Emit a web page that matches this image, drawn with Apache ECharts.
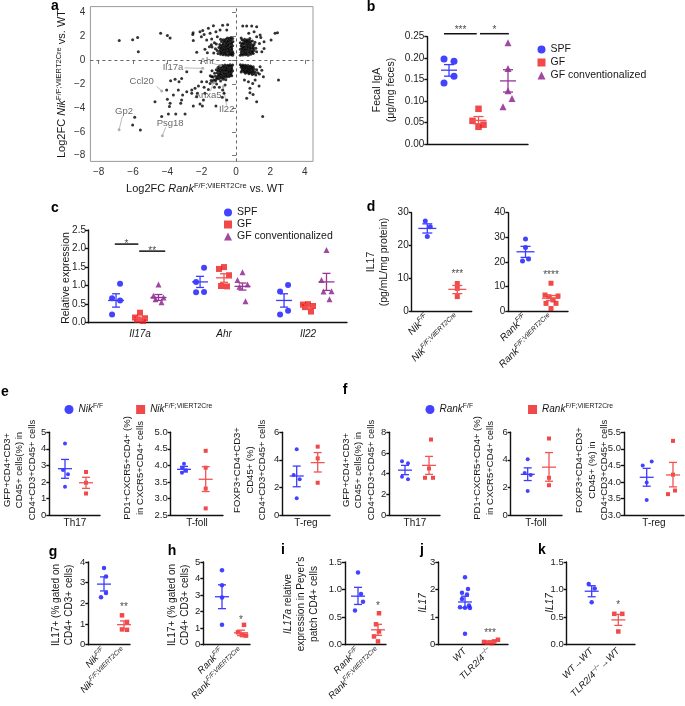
<!DOCTYPE html>
<html><head><meta charset="utf-8">
<script src="https://cdn.jsdelivr.net/npm/echarts@6/dist/echarts.min.js"></script>
<style>html,body{margin:0;padding:0;background:#fff}#c{width:685px;height:706px}</style>
</head><body><div id="c"></div>
<script>
// ================= DATA =================
// Panel a: volcano-like scatter (x: Log2FC Rank, y: Log2FC Nik)
const aTicks = [-8,-6,-4,-2,0,2,4];
const aPoints = [
[-6.8,1.65],[-6.02,1.71],[-5.73,1.9],[-5.69,0.71],[-4.39,2.24],[-4.0,2.07],[-3.84,1.85],[-2.52,2.15],[-2.5,2.3],[-1.94,2.48],[-1.61,2.66],[-1.32,2.88],[-0.78,2.91],[-0.49,2.96],[-2.49,1.65],[-2.29,0.65],[-2.1,2.38],[-2.02,1.96],[-1.86,2.15],[-1.71,1.68],[-1.51,2.24],[-1.42,1.76],[-1.17,2.38],[-1.09,1.96],[-0.93,2.52],[-1.81,0.9],[-1.67,0.62],[-1.55,1.12],[-1.44,1.29],[-1.26,1.46],[-0.54,2.52],[0.39,2.85],[0.62,2.85],[0.91,2.85],[1.2,2.8],[1.05,2.38],[0.74,2.24],[1.4,2.1],[1.2,1.96],[1.63,0.98],[1.5,0.71],[1.44,1.9],[2.04,1.68],[2.27,2.24],[2.41,2.29],[1.63,1.54],[1.36,1.4],
[-2.04,-0.97],[-2.87,-0.97],[-3.32,-1.81],[-3.55,-1.61],[-3.81,-1.72],[-3.17,-1.53],[-4.04,-2.5],[-3.36,-2.5],[-3.65,-2.92],[-3.11,-2.92],[-2.87,-2.64],[-2.58,-2.5],[-2.39,-2.36],[-2.25,-2.78],[-2.58,-2.78],[-4.72,-3.48],[-4.0,-3.28],[-3.84,-3.61],[-3.88,-3.89],[-3.17,-3.34],[-3.22,-3.61],[-2.49,-3.84],[-2.1,-3.67],[-1.96,-3.84],[-1.17,-3.84],[-0.8,-3.11],[-2.29,-3.06],[-1.9,-3.34],[-3.94,-4.51],[-3.51,-4.51],[-2.97,-4.51],[-4.33,-4.73],[-5.9,-4.79],[-6.02,-5.43],[-5.57,-5.85],[1.4,-0.55],[1.5,-0.84],[1.36,-1.17],[1.59,-1.39],[1.11,-1.67],[0.72,-1.81],[0.97,-1.95],[0.81,-2.36],[1.34,-2.17],[0.99,-2.87],[0.62,-3.2],[1.2,-3.48],[2.47,-1.67],[1.55,-4.73],[0.49,-1.67],[0.81,-2.73],[-1.71,-1.81],[-1.51,-1.95],[-1.86,-2.28],[-1.61,-2.45],[-1.36,-1.81],[-1.13,-2.0],[-0.97,-2.28],[-0.78,-2.5],[-0.64,-2.08],[-1.26,-2.28],[-1.81,-2.78],[-2.0,-1.81],[-2.19,-2.17],[-1.42,-1.39],[-0.7,-2.78],[-0.54,-3.34],
[-0.2,0.4],[-0.3,0.45],[-0.45,0.4],[-0.6,0.42],[-0.75,0.45],[-0.9,0.5],[-0.2,0.7],[-0.35,0.65],[-0.5,0.7],[-0.65,0.68],[-0.8,0.72],[-0.95,0.75],[-1.1,0.8],[-0.25,0.95],[-0.4,0.9],[-0.55,0.95],[-0.7,0.92],[-0.85,1.0],[-1.0,1.05],[-0.2,1.2],[-0.35,1.15],[-0.5,1.2],[-0.65,1.18],[-0.8,1.25],[-0.95,1.3],[-0.25,1.45],[-0.4,1.4],[-0.55,1.45],[-0.7,1.5],[-0.85,1.55],[-0.3,1.7],[-0.45,1.65],[-0.6,1.75],[-0.75,1.7],[-0.18,1.55],[-0.17,0.55],[-1.05,0.55],[-1.2,0.95],[-0.5,1.85],[-0.3,1.9],[-1.3,0.6],[-1.15,1.35],[-0.9,1.75],[-1.4,1.1],
[-0.28,0.55],[-0.42,0.53],[-0.58,0.56],[-0.72,0.58],[-0.88,0.62],[-0.27,0.82],[-0.43,0.78],[-0.6,0.82],[-0.75,0.85],[-0.9,0.88],[-0.28,1.07],[-0.45,1.03],[-0.6,1.07],[-0.75,1.1],[-0.9,1.15],[-0.28,1.32],[-0.45,1.28],[-0.6,1.32],[-0.75,1.38],[-0.35,1.55],[-0.5,1.55],[-0.65,1.62],[-0.2,1.8],[-0.4,1.8],
[0.25,0.4],[0.4,0.42],[0.55,0.45],[0.7,0.4],[0.85,0.5],[1.0,0.55],[0.3,0.65],[0.45,0.7],[0.6,0.68],[0.75,0.72],[0.9,0.75],[1.05,0.8],[0.25,0.9],[0.4,0.95],[0.55,0.92],[0.7,1.0],[0.85,1.02],[1.0,1.05],[1.15,1.0],[0.3,1.2],[0.45,1.15],[0.6,1.22],[0.75,1.25],[0.9,1.3],[1.05,1.3],[0.25,1.45],[0.4,1.42],[0.55,1.5],[0.7,1.5],[0.85,1.55],[0.35,1.7],[0.5,1.75],[0.65,1.7],[0.8,1.8],[1.2,0.7],[0.95,1.6],[1.1,1.5],[0.3,1.85],
[0.32,0.52],[0.48,0.55],[0.62,0.55],[0.78,0.6],[0.95,0.65],[0.35,0.8],[0.5,0.82],[0.66,0.85],[0.82,0.88],[0.98,0.92],[0.35,1.05],[0.5,1.07],[0.66,1.1],[0.82,1.15],[0.98,1.18],[0.35,1.32],[0.5,1.35],[0.66,1.38],[0.8,1.42],[0.45,1.6],[0.6,1.6],[0.75,1.65],
[-0.2,-0.4],[-0.35,-0.38],[-0.5,-0.42],[-0.65,-0.4],[-0.8,-0.45],[-0.95,-0.5],[-0.25,-0.65],[-0.4,-0.62],[-0.55,-0.68],[-0.7,-0.65],[-0.85,-0.7],[-1.0,-0.75],[-1.15,-0.8],[-0.2,-0.9],[-0.35,-0.88],[-0.5,-0.92],[-0.65,-0.9],[-0.8,-0.95],[-0.95,-1.0],[-1.1,-1.05],[-1.25,-1.1],[-0.3,-1.15],[-0.45,-1.12],[-0.6,-1.18],[-0.75,-1.2],[-0.9,-1.25],[-1.05,-1.3],[-1.2,-1.35],[-1.35,-1.4],[-0.4,-1.38],[-0.55,-1.42],[-0.7,-1.45],[-0.85,-1.5],[-1.0,-1.55],[-1.15,-1.6],[-1.3,-1.65],[-1.45,-1.7],[-0.6,-1.65],[-0.9,-1.75],[-1.5,-1.3],[-1.4,-0.9],[-0.25,-1.3],
[-0.28,-0.52],[-0.43,-0.5],[-0.58,-0.55],[-0.73,-0.55],[-0.88,-0.58],[-1.05,-0.62],[-0.28,-0.78],[-0.45,-0.76],[-0.6,-0.8],[-0.75,-0.82],[-0.9,-0.84],[-1.05,-0.9],[-0.28,-1.02],[-0.42,-1.0],[-0.58,-1.05],[-0.72,-1.07],[-0.88,-1.12],[-1.0,-1.18],[-0.35,-1.26],[-0.5,-1.28],[-0.65,-1.32],[-0.8,-1.37],[-0.95,-1.42],[-1.1,-1.47],[-0.75,-1.6],[-1.2,-1.75],
[0.25,-0.38],[0.4,-0.4],[0.55,-0.42],[0.7,-0.45],[0.85,-0.5],[1.0,-0.55],[0.3,-0.6],[0.45,-0.62],[0.6,-0.65],[0.75,-0.7],[0.9,-0.72],[1.05,-0.75],[1.2,-0.8],[0.35,-0.85],[0.5,-0.88],[0.65,-0.9],[0.8,-0.95],[0.95,-0.98],[1.1,-1.0],[1.25,-1.05],[0.55,-1.1],[0.75,-1.15],[0.95,-1.2],[1.15,-1.25],[0.3,-1.0],
[0.32,-0.5],[0.48,-0.52],[0.62,-0.55],[0.78,-0.58],[0.92,-0.62],[0.38,-0.72],[0.52,-0.75],[0.68,-0.78],[0.82,-0.82],[0.98,-0.87],[0.45,-0.98],[0.6,-1.0],[0.72,-1.03],[0.88,-1.08],[1.05,-1.12]
];
const aGenes = ['Il17a','Ahr','Ccl20','Anxa5','Il22','Gp2','Psg18'];
const aGenePts = [[-1.94,-0.69],[-0.9,-0.45],[-4.33,-2.59],[-1.3,-1.9],[-0.75,-2.2],[-6.81,-5.84],[-4.29,-6.33]];

// Panel b: Fecal IgA
const bGroups = ['SPF','GF','GF conventionalized'];
const bSPF  = [0.198,0.193,0.158,0.142];
const bGF   = [0.082,0.054,0.045,0.040];
const bConv = [0.236,0.176,0.124,0.106,0.087];
const bMean = [0.172,0.055,0.147], bLo = [0.158,0.047,0.121], bHi = [0.185,0.064,0.173];

// Panel c: relative expression
const cGenes = ['Il17a','Ahr','Il22'];
const cSPF  = [[1.05,0.66,0.6,0.22],[1.48,1.1,0.83,0.82],[1.02,0.84,0.32,0.22]];
const cGF   = [[0.27,0.14,0.12,0.08,0.05],[1.5,1.45,1.28,0.99,0.98],[0.5,0.49,0.45,0.42,0.3]];
const cConv = [[1.03,0.73,0.68,0.63,0.55],[1.36,1.15,1.03,0.97,0.58],[1.96,1.15,0.85,0.84,0.63]];
const cMean = {SPF:[0.6,1.1,0.6], GF:[0.11,1.21,0.43], Conv:[0.68,0.98,1.1]};
const cLo   = {SPF:[0.42,0.95,0.42], GF:[0.07,1.09,0.39], Conv:[0.6,0.88,0.87]};
const cHi   = {SPF:[0.78,1.25,0.78], GF:[0.15,1.32,0.48], Conv:[0.76,1.07,1.33]};

// Panel d: IL17 protein
const dNik = [27.5,25.7,22.7], dNikVil = [8.4,6.9,4.4];
const dNikStats = [[25.2,23.8,26.6],[6.6,5.3,7.8]];
const dRank = [29.3,25.8,21.2,20.3], dRankVil = [11.3,6.5,6.1,5.8,4.5,3.1,3.1,1.0];
const dRankStats = [[24.1,21.8,26.3],[5.2,4.2,6.3]];

// Panel e (Nik) and f (Rank): Th17, T-foll, T-reg
const eTh17 = [[4.33,2.72,2.46,1.71],[2.6,1.95,1.3]], eTh17Stats=[[2.8,2.22,3.36],[1.95,1.61,2.28]];
const eTfoll = [[4.05,3.92,3.85,3.78],[4.44,3.93,3.3,2.7]], eTfollStats=[[3.88,3.8,3.97],[3.58,3.21,3.96]];
const eTreg = [[4.77,2.9,2.59,1.21],[4.96,4.11,2.34]], eTregStats=[[2.83,2.05,3.55],[3.8,3.12,4.53]];
const fTh17 = [[5.2,5.0,3.7,3.45],[7.3,4.5,3.6,3.6]], fTh17Stats=[[4.34,3.9,4.8],[4.8,3.93,5.67]];
const fTfoll = [[4.05,3.05,2.9,1.75],[5.55,2.7,2.16]], fTfollStats=[[2.95,2.5,3.42],[3.47,2.45,4.53]];
const fTreg = [[4.62,4.5,3.98,3.45],[5.24,4.22,3.74,3.63]], fTregStats=[[4.14,3.87,4.41],[4.21,3.85,4.59]];

// Panels g-k
const gIL17 = [[3.71,3.3,2.5,2.3],[1.42,1.1,0.74,0.72]], gStats=[[2.93,2.6,3.28],[0.97,0.77,1.15]];
const hIL17 = [[4.5,3.6,2.85,1.2],[1.2,0.75,0.58,0.55]], hStats=[[2.9,2.18,3.62],[0.72,0.55,0.88]];
const iIL17a = [[1.31,0.92,0.78,0.62],[0.57,0.37,0.24,0.15,0.06]], iStats=[[0.88,0.73,1.04],[0.27,0.17,0.37]];
const jIL17 = [[2.45,2.02,1.88,1.82,1.66,1.42,1.36,1.34,1.33,0.4],[0.18,0.12,0.1,0.08,0.07,0.06]], jStats=[[1.55,1.34,1.76],[0.1,0.08,0.13]];
const kIL17 = [[1.1,1.02,0.77],[0.56,0.56,0.24]], kStats=[[0.97,0.87,1.07],[0.45,0.35,0.55]];

// ================= STYLE / LAYOUT =================
const F = '"Liberation Sans", Arial, Helvetica, sans-serif';
const COL = {blue:'#1414ff', red:'#ee1c1c', purple:'#8a1c8a'};
const ECOL = {blue:'#3c3cff', red:'#f25353', purple:'#963796'};
const TXT = '#161616';
function rich(fs, color){
  color = color || TXT; const ss = Math.round(fs*0.68*10)/10;
  return {
    n:{fontFamily:F,fontSize:fs,lineHeight:fs+3,color},
    i:{fontFamily:F,fontSize:fs,lineHeight:fs+3,fontStyle:'italic',color},
    s:{fontFamily:F,fontSize:ss,lineHeight:ss+1,verticalAlign:'top',color},
    si:{fontFamily:F,fontSize:ss,lineHeight:ss+1,verticalAlign:'top',fontStyle:'italic',color}
  };
}
const grids=[], xAxes=[], yAxes=[], series=[], graphics=[], legends=[];
function minus(v){ return (v<0?'\u2212':'')+Math.abs(v); }

function errSeries(gi, data, color, mw, cw){
  return {type:'custom', xAxisIndex:gi, yAxisIndex:gi, silent:true, z:4, clip:false, data,
    encode:{x:0,y:1},
    renderItem:(params, api)=>{
      const x = api.value(0);
      const m = api.coord([x, api.value(1)]), lo = api.coord([x, api.value(2)]), hi = api.coord([x, api.value(3)]);
      const st = {stroke:color, lineWidth:1.3};
      return {type:'group', children:[
        {type:'line', shape:{x1:m[0]-mw,y1:m[1],x2:m[0]+mw,y2:m[1]}, style:st},
        {type:'line', shape:{x1:lo[0],y1:lo[1],x2:hi[0],y2:hi[1]}, style:st},
        {type:'line', shape:{x1:lo[0]-cw,y1:lo[1],x2:lo[0]+cw,y2:lo[1]}, style:st},
        {type:'line', shape:{x1:hi[0]-cw,y1:hi[1],x2:hi[0]+cw,y2:hi[1]}, style:st}
      ]};
    }};
}
function sigBars(gi, bars){
  series.push({type:'custom', xAxisIndex:gi, yAxisIndex:gi, silent:true, clip:false, z:5,
    data: bars.map(b=>[b[0],b[2],b[1]]), encode:{x:[0,2],y:1},
    renderItem:(p, api)=>{
      const a = api.coord([api.value(0), api.value(1)]), b = api.coord([api.value(2), api.value(1)]);
      return {type:'line', shape:{x1:a[0],y1:a[1],x2:b[0],y2:a[1]}, style:{stroke:'#111', lineWidth:1.5}};
    }});
}
function stars(gi, list, fs){
  series.push({type:'scatter', xAxisIndex:gi, yAxisIndex:gi, silent:true, clip:false, z:6,
    symbolSize:1, itemStyle:{color:'rgba(0,0,0,0)'},
    data: list.map(s=>({value:[s[0],s[1]], label:{formatter:s[2]}})),
    label:{show:true, position:'inside', offset:[0,3], fontFamily:F, fontSize:fs||10, color:TXT}});
}

function dot(p){
  const gi = grids.length, unit = p.gx[1]-p.gx[0];
  grids.push({left:p.l, top:p.t, width:p.r-p.l, height:p.b-p.t});
  const xa = {gridIndex:gi, type:'value', min:(p.l-p.gx[0])/unit, max:(p.r-p.gx[0])/unit,
    axisLine:{show:true,onZero:false,lineStyle:{color:'#111',width:1.4}}, axisTick:{show:false},
    splitLine:{show:false}, axisLabel:{show:false}};
  if (p.xl) xa.axisLabel = {show:true, customValues:p.xl.v, rotate:p.xl.rot||0, margin:p.xl.m||5,
    fontFamily:F, fontSize:p.xl.fs||9.5, color:TXT, formatter:v=>p.xl.t[p.xl.v.indexOf(Math.round(v*1000)/1000)], rich:rich(p.xl.fs||9.5)};
  xAxes.push(xa);
  yAxes.push({gridIndex:gi, type:'value', min:p.ymin, max:p.ymax, interval:p.yint,
    axisLine:{show:true,onZero:false,lineStyle:{color:'#111',width:1.4}},
    axisTick:{show:true,length:3,lineStyle:{color:'#111',width:1.4}},
    axisLabel:{fontFamily:F,fontSize:p.yfs||9.5,color:'#222',margin:p.ym===undefined?3:p.ym, formatter:v=>v.toFixed(p.dec||0)},
    splitLine:{show:false}});
  p.groups.forEach(g=>{
    series.push({type:'scatter', name:g.name, xAxisIndex:gi, yAxisIndex:gi, symbol:g.sym||'circle',
      symbolSize:g.size||4, itemStyle:{color:COL[g.c]}, clip:false, z:3, silent:true,
      data:g.vals.map((v,i)=>[g.x + (g.jit? g.jit[i]:0)/unit, v])});
    series.push(errSeries(gi, [[g.x, g.st[0], g.st[1], g.st[2]]], ECOL[g.c], p.mw||7, p.cw||4));
  });
  if (p.bars) sigBars(gi, p.bars);
  if (p.stars) stars(gi, p.stars, p.sfs);
  return gi;
}
function vtext(x, y, text, fs){
  graphics.push({type:'text', x, y, rotation:Math.PI/2, silent:true,
    style:{text, rich:rich(fs), fontFamily:F, fontSize:fs, fill:TXT, align:'center', verticalAlign:'middle'}});
}
function htext(x, y, text, fs, bold, color){
  graphics.push({type:'text', x, y, silent:true,
    style:{text, rich:rich(fs, color), fontFamily:F, fontSize:fs, fontWeight:bold?'bold':'normal', fill:color||TXT, align:'center', verticalAlign:'middle'}});
}

// ---------- Panel a ----------
(function(){
  const gi = grids.length;
  grids.push({left:90.4, top:6.6, width:313-90.4, height:161.4-6.6, show:true, borderColor:'#9a9a9a', borderWidth:1, backgroundColor:'rgba(0,0,0,0)'});
  const base = {gridIndex:gi, type:'value', min:-8.48, max:4.48, splitLine:{show:false}, axisLine:{show:false},
    axisTick:{show:true, customValues:aTicks, length:4, lineStyle:{color:'#777'}},
    axisLabel:{customValues:aTicks, fontFamily:F, fontSize:10, color:'#333', margin:6, formatter:minus}};
  xAxes.push(base);
  yAxes.push(Object.assign({}, base, {axisLabel:Object.assign({}, base.axisLabel, {margin:5})}));
  series.push({type:'scatter', xAxisIndex:gi, yAxisIndex:gi, symbolSize:3, itemStyle:{color:'#000'}, data:aPoints, silent:true,
    markLine:{silent:true, symbol:['none','none'], label:{show:false}, animation:false,
      lineStyle:{type:[3,3], color:'#555', width:0.9}, data:[{xAxis:0},{yAxis:0}]}});
  // gene label layout: text centre and leader start (axis units)
  const textPos = [[-3.67,-0.64],[-1.69,-0.13],[-5.49,-1.78],[-1.63,-2.92],[-0.54,-4.12],[-6.52,-4.26],[-3.84,-5.29]];
  const lineStart = [[-3.0,-0.65],[-1.35,-0.28],[-4.62,-2.2],[-1.5,-2.6],[-0.55,-3.8],[-6.62,-4.7],[-4.1,-5.62]];
  series.push({type:'custom', xAxisIndex:gi, yAxisIndex:gi, silent:true, z:2,
    data: aGenePts.map((p,i)=>[lineStart[i][0], lineStart[i][1], p[0], p[1]]), encode:{x:[0,2],y:[1,3]},
    renderItem:(pr, api)=>{
      const a = api.coord([api.value(0),api.value(1)]), b = api.coord([api.value(2),api.value(3)]);
      return {type:'line', shape:{x1:a[0],y1:a[1],x2:b[0],y2:b[1]}, style:{stroke:'#aaa', lineWidth:0.8}};
    }});
  series.push({type:'scatter', xAxisIndex:gi, yAxisIndex:gi, symbolSize:3, itemStyle:{color:'#a0a0a0'}, data:aGenePts, silent:true, z:3});
  series.push({type:'scatter', xAxisIndex:gi, yAxisIndex:gi, symbolSize:1, itemStyle:{color:'rgba(0,0,0,0)'}, silent:true, z:6,
    data: textPos.map((p,i)=>({value:p, label:{formatter:aGenes[i]}})),
    label:{show:true, position:'inside', fontFamily:F, fontSize:9.5, color:'#444'}});
  vtext(62, 84, '{n|Log2FC }{i|Nik}{s|F/F;VilERT2Cre}{n| vs. WT}', 11);
  htext(205, 189, '{n|Log2FC }{i|Rank}{s|F/F;VilERT2Cre}{n| vs. WT}', 11);
})();

// ---------- Panel b ----------
(function(){
  dot({l:427.3, r:528, t:36.7, b:144, gx:[449,478.5], ymin:0, ymax:0.25, yint:0.05, dec:2, yfs:10, mw:8, cw:5,
    groups:[
      {name:bGroups[0], x:0, vals:bSPF, c:'blue', sym:'circle', size:7, jit:[-5,5,5,-5], st:[bMean[0],bLo[0],bHi[0]]},
      {name:bGroups[1], x:1, vals:bGF, c:'red', sym:'rect', size:6.5, jit:[0,-6,5,0], st:[bMean[1],bLo[1],bHi[1]]},
      {name:bGroups[2], x:2, vals:bConv, c:'purple', sym:'triangle', size:7, jit:[0,0,0,4,-5], st:[bMean[2],bLo[2],bHi[2]]}
    ],
    bars:[[-0.17,0.94,0.257],[1.05,2.03,0.257]],
    stars:[[0.39,0.272,'***'],[1.54,0.272,'*']]});
  vtext(384, 90, '{n|Fecal IgA}\n{n|(μg/mg feces)}', 10.5);
  legends.push({left:532.5, top:39, orient:'vertical', itemWidth:8, itemHeight:8, itemGap:2, selectedMode:false,
    textStyle:{fontFamily:F, fontSize:10.5, color:TXT},
    data:[{name:'SPF',icon:'circle'},{name:'GF',icon:'rect'},{name:'GF conventionalized',icon:'triangle'}]});
})();

// ---------- Panel c ----------
(function(){
  const groups = [];
  [0,1,2].forEach(k=>{
    groups.push({name:'SPF', x:k-0.285, vals:cSPF[k], c:'blue', sym:'circle', size:6, jit:[4,-4,4,-4], st:[cMean.SPF[k],cLo.SPF[k],cHi.SPF[k]]});
    groups.push({name:'GF', x:k, vals:cGF[k], c:'red', sym:'rect', size:6, jit:[0,-5,5,-3,3], st:[cMean.GF[k],cLo.GF[k],cHi.GF[k]]});
    groups.push({name:'GF conventionalized', x:k+0.22, vals:cConv[k], c:'purple', sym:'triangle', size:6, jit:[0,-5,5,-3,3], st:[cMean.Conv[k],cLo.Conv[k],cHi.Conv[k]]});
  });
  dot({l:88, r:347, t:230, b:322.7, gx:[140,224], ymin:0, ymax:2.5, yint:0.5, dec:1, yfs:10, ym:2, mw:8, cw:4,
    xl:{v:[0,1,2], t:cGenes.map(g=>'{i|'+g+'}'), fs:10, m:5},
    groups,
    bars:[[-0.3,-0.02,2.12],[-0.01,0.3,1.93]],
    stars:[[-0.16,2.2,'*'],[0.145,2.01,'**']]});
  vtext(66, 278, '{n|Relative expression}', 10.5);
  legends.push({left:219, top:202, orient:'vertical', itemWidth:8, itemHeight:8, itemGap:1, selectedMode:false,
    textStyle:{fontFamily:F, fontSize:10.5, color:TXT},
    data:[{name:'SPF',icon:'circle'},{name:'GF',icon:'rect'},{name:'GF conventionalized',icon:'triangle'}]});
})();

// ---------- Panel d ----------
(function(){
  dot({l:411.7, r:471.7, t:212.7, b:311, gx:[427.3,457.3], ymin:0, ymax:30, yint:10, yfs:10, mw:9, cw:5,
    xl:{v:[0,1], t:['{i|Nik}{si|F/F}','{i|Nik}{si|F/F;VilERT2Cre}'], rot:45, fs:10, m:5},
    groups:[
      {name:'NikFF', x:0, vals:dNik, c:'blue', size:5, jit:[-2,3,0], st:dNikStats[0]},
      {name:'NikVil', x:1, vals:dNikVil, c:'red', sym:'rect', size:5, st:dNikStats[1]}],
    stars:[[1,12.2,'***']]});
  dot({l:508.3, r:568, t:212.7, b:311, gx:[525.5,551], ymin:0, ymax:40, yint:10, yfs:10, mw:9, cw:5,
    xl:{v:[0,1], t:['{i|Rank}{si|F/F}','{i|Rank}{si|F/F;VilERT2Cre}'], rot:45, fs:10, m:5},
    groups:[
      {name:'RankFF', x:0, vals:dRank, c:'blue', size:5, jit:[0,0,3,-3], st:dRankStats[0]},
      {name:'RankVil', x:1, vals:dRankVil, c:'red', sym:'rect', size:5, jit:[0,-6,7,-2,2,-5,5,0], st:dRankStats[1]}],
    stars:[[1,15.6,'****']]});
  vtext(377.5, 262, '{n|IL17}\n{n|(pg/mL/mg protein)}', 10.5);
})();

// ---------- Panels e, f ----------
function pair(p, data, stats, nm){
  return dot(Object.assign({t:432.3, b:515, mw:7, cw:4, yfs:9.5,
    groups:[
      {name:nm[0], x:0, vals:data[0], c:'blue', size:4, jit:p.j0, st:stats[0]},
      {name:nm[1], x:1, vals:data[1], c:'red', sym:'rect', size:4, jit:p.j1, st:stats[1]}]}, p));
}
pair({l:49.3, r:100, gx:[65,86], ymin:0, ymax:5, yint:1, j0:[0,-2,3,0]}, eTh17, eTh17Stats, ['NikFF','NikVil']);
pair({l:170.7, r:223, gx:[184,205.7], ymin:2.5, ymax:5, yint:0.5, dec:1, j0:[0,-2,2,-2]}, eTfoll, eTfollStats, ['NikFF','NikVil']);
pair({l:282.3, r:330, gx:[296.7,317.7], ymin:0, ymax:6, yint:2, j0:[0,-3,3,0]}, eTreg, eTregStats, ['NikFF','NikVil']);
pair({l:389.3, r:440, gx:[405,429], ymin:0, ymax:8, yint:2, j0:[-3,3,-3,3], j1:[2,0,-4,4]}, fTh17, fTh17Stats, ['RankFF','RankVil']);
pair({l:510.7, r:562, gx:[527.7,549], ymin:0, ymax:6, yint:2, j0:[0,-3,3,0]}, fTfoll, fTfollStats, ['RankFF','RankVil']);
pair({l:624, r:684, gx:[646.7,673], ymin:3, ymax:5.5, yint:0.5, dec:1, j0:[5,-4,0,0], j1:[0,0,2,-5]}, fTreg, fTregStats, ['RankFF','RankVil']);

const legNames = {NikFF:'{i|Nik}{s|F/F}', NikVil:'{i|Nik}{s|F/F;VilERT2Cre}', RankFF:'{i|Rank}{s|F/F}', RankVil:'{i|Rank}{s|F/F;VilERT2Cre}'};
legends.push({left:59.5, top:398, orient:'horizontal', itemWidth:9, itemHeight:9, itemGap:33, selectedMode:false,
  textStyle:{fontFamily:F, fontSize:10, color:TXT, rich:rich(10)}, formatter:n=>legNames[n],
  data:[{name:'NikFF',icon:'circle'},{name:'NikVil',icon:'rect'}]});
legends.push({left:420.5, top:398, orient:'horizontal', itemWidth:9, itemHeight:9, itemGap:55, selectedMode:false,
  textStyle:{fontFamily:F, fontSize:10, color:TXT, rich:rich(10)}, formatter:n=>legNames[n],
  data:[{name:'RankFF',icon:'circle'},{name:'RankVil',icon:'rect'}]});

const th17T = '{n|GFP+CD4+CD3+}\n{n|CD45+ cells(%) in}\n{n|CD4+CD3+CD45+ cells}';
const tfollT = '{n|PD1+CXCR5+CD4+ (%)}\n{n|in CXCR5+CD4+ cells}';
vtext(19.5, 470, th17T, 9.5);
vtext(134, 468, tfollT, 9.5);
vtext(250, 470, '{n|FOXP3+CD4+CD3+}\n{n|CD45+ (%)}\n{n|CD4+CD3+CD45+ cells}', 9.5);
vtext(358.5, 470, th17T, 9.5);
vtext(484, 468, tfollT, 9.5);
vtext(592, 470, '{n|FOXP3+CD4+CD3+}\n{n|CD45+ (%) in}\n{n|CD4+CD3+CD45+ cells}', 9.5);
[[75,'Th17'],[197,'T-foll'],[306,'T-reg'],[415,'Th17'],[536,'T-foll'],[654,'T-reg']].forEach(t=>htext(t[0],523.5,'{n|'+t[1]+'}',10));

// ---------- Panels g-k ----------
const nikL = ['{i|Nik}{si|F/F}','{i|Nik}{si|F/F;VilERT2Cre}'];
const rankL = ['{i|Rank}{si|F/F}','{i|Rank}{si|F/F;VilERT2Cre}'];
function low(p, data, stats, labels, nm){
  return dot(Object.assign({t:562, b:644.7, mw:7, cw:4, yfs:9.5,
    xl:{v:[0,1], t:labels, rot:45, fs:9.5, m:5},
    groups:[
      {name:nm[0], x:0, vals:data[0], c:'blue', size:4.5, jit:p.j0, st:stats[0]},
      {name:nm[1], x:1, vals:data[1], c:'red', sym:'rect', size:4.5, jit:p.j1, st:stats[1]}]}, p));
}
low({l:88.3, r:130, gx:[104,124], ymin:0, ymax:4, yint:1, j0:[0,2,2,-3], j1:[-2,3,-2,3], stars:[[1,1.95,'**']]}, gIL17, gStats, nikL, ['NikFF','NikVil']);
low({l:203.3, r:250, gx:[222,241], ymin:0, ymax:5, yint:1, j1:[3,-3,1,5], stars:[[1,1.67,'*']]}, hIL17, hStats, rankL, ['RankFF','RankVil']);
low({l:345, r:386, gx:[358,378], ymin:0, ymax:1.5, yint:0.5, dec:1, j0:[0,3,5,-3], j1:[1,-2,1,-4,0], stars:[[1,0.76,'*']]}, iIL17a, iStats, rankL, ['RankFF','RankVil']);
low({l:438.3, r:508, gx:[465,490], ymin:0, ymax:3, yint:1, j0:[0,3,-3,2,-3,4,-5,0,5,0], j1:[8,4,-6,0,-3,2], stars:[[1,0.51,'***']]}, jIL17, jStats, ['{i|WT}','{i|TLR2/4}{si|\u2212/\u2212}'], ['WT','TLR']);
low({l:566.7, r:635, gx:[591.7,618.3], ymin:0, ymax:1.5, yint:0.5, dec:1, j0:[-3,3,0], j1:[-4,4,0], stars:[[1,0.77,'*']]}, kIL17, kStats, ['{i|WT\u2192WT}','{i|TLR2/4}{si|\u2212/\u2212}{i|\u2192WT}'], ['WT2','TLR2']);

vtext(63, 605, '{n|IL17+ (% gated on}\n{n|CD4+ CD3+ cells)}', 10);
vtext(178.5, 605, '{n|IL17+ (% gated on}\n{n|CD4+ CD3+ cells)}', 10);
vtext(301, 604, '{i|IL17a}{n| relative}\n{n|expression in Peyer\'s}\n{n|patch CD4+ cells}', 10);
vtext(423.5, 603, '{i|IL17}', 10);
vtext(550, 603, '{i|IL17}', 10);

// ---------- panel letters ----------
[['a',55,6],['b',371,7],['c',55,208],['d',371,207],['e',5,392],['f',345,390],['g',53,552],['h',172,551],['i',283,550],['j',422,550],['k',542,550]]
  .forEach(l=>graphics.push({type:'text', x:l[1], y:l[2], silent:true, style:{text:l[0], fontFamily:F, fontSize:14, fontWeight:'bold', fill:'#000', align:'center', verticalAlign:'middle'}}));

const chart = echarts.init(document.getElementById('c'));
chart.setOption({animation:false, backgroundColor:'#fff', grid:grids, xAxis:xAxes, yAxis:yAxes, series, legend:legends, graphic:graphics});
</script></body></html>
